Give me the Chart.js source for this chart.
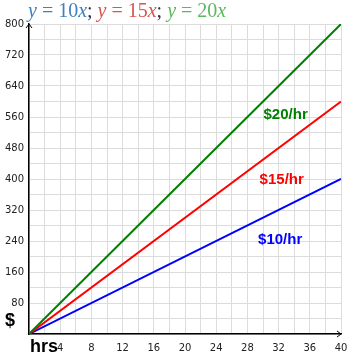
<!DOCTYPE html>
<html>
<head>
<meta charset="utf-8">
<script src="https://cdn.jsdelivr.net/npm/chart.js@4/dist/chart.umd.min.js"></script>
<style>
  html, body { margin: 0; padding: 0; background: #fff; }
  #wrap { width: 357px; height: 354px; }
</style>
</head>
<body>
<div id="wrap"><canvas id="chart" width="357" height="354"></canvas></div>
<script>
// hours worked and total pay for each rate
var hours = [0, 40];
var pay10 = [0, 400];
var pay15 = [0, 600];
var pay20 = [0, 800];
var rateLabels = ['$10/hr', '$15/hr', '$20/hr'];

function pts(ys) {
  return hours.map(function (h, i) { return { x: h, y: ys[i] }; });
}

// where the rate labels sit, in chart units
var labelSpots = [
  { text: rateLabels[0], x: 32.2, y: 243, color: '#0000ff' },
  { text: rateLabels[1], x: 32.4, y: 397, color: '#ff0000' },
  { text: rateLabels[2], x: 32.9, y: 565, color: '#008000' }
];

var extras = {
  id: 'extras',
  afterDraw: function (chart) {
    var ctx = chart.ctx;
    var xs = chart.scales.x, ys = chart.scales.y;
    var left = xs.left, bottom = ys.bottom, top = ys.top, right = xs.right;
    ctx.save();

    // axis arrows
    ctx.strokeStyle = '#000';
    ctx.lineWidth = 1;
    ctx.beginPath();
    ctx.moveTo(left - 3, top + 4); ctx.lineTo(left, top); ctx.lineTo(left + 3, top + 4);
    ctx.moveTo(right - 4, bottom - 3); ctx.lineTo(right, bottom); ctx.lineTo(right - 4, bottom + 3);
    ctx.stroke();

    // rate labels
    ctx.font = 'bold 15px "Liberation Sans", Arial, sans-serif';
    ctx.textAlign = 'center';
    ctx.textBaseline = 'middle';
    labelSpots.forEach(function (l) {
      ctx.fillStyle = l.color;
      ctx.fillText(l.text, xs.getPixelForValue(l.x), ys.getPixelForValue(l.y));
    });

    // axis names
    ctx.fillStyle = '#000';
    ctx.font = 'bold 18px "Liberation Sans", Arial, sans-serif';
    ctx.textAlign = 'left';
    ctx.textBaseline = 'alphabetic';
    ctx.fillText('$', 5, 326);
    ctx.fillText('hrs', 30, 352);

    // title: y = 10x; y = 15x; y = 20x
    var parts = [
      ['y', true, '#3f7fbf'], [' = 10', false, '#3f7fbf'], ['x', true, '#3f7fbf'], ['; ', false, '#334'],
      ['y', true, '#d9534f'], [' = 15', false, '#d9534f'], ['x', true, '#d9534f'], ['; ', false, '#334'],
      ['y', true, '#5cb85c'], [' = 20', false, '#5cb85c'], ['x', true, '#5cb85c']
    ];
    var cx = 28;
    parts.forEach(function (p) {
      ctx.font = (p[1] ? 'italic ' : '') + '20px "Liberation Serif", "Times New Roman", serif';
      ctx.fillStyle = p[2];
      ctx.fillText(p[0], cx, 17);
      cx += ctx.measureText(p[0]).width;
    });
    ctx.restore();
  }
};

new Chart(document.getElementById('chart'), {
  type: 'line',
  data: {
    datasets: [
      { data: pts(pay20), borderColor: '#008000', borderWidth: 2 },
      { data: pts(pay15), borderColor: '#ff0000', borderWidth: 2 },
      { data: pts(pay10), borderColor: '#0000ff', borderWidth: 2 }
    ]
  },
  options: {
    responsive: false,
    animation: false,
    events: [],
    layout: { padding: { left: 0, top: 24, right: 16, bottom: 0 } },
    elements: { point: { radius: 0 }, line: { tension: 0 } },
    plugins: { legend: { display: false }, tooltip: { enabled: false } },
    scales: {
      x: {
        type: 'linear', min: 0, max: 40,
        afterFit: function (s) { s.height = 20; },
        grid: { color: '#dcdcdc', drawTicks: false },
        border: { color: '#000', width: 1.5 },
        ticks: {
          stepSize: 2, padding: 8, autoSkip: false, maxRotation: 0,
          color: '#222', font: { family: '"DejaVu Sans", Verdana, sans-serif', size: 10 },
          callback: function (v) { return (v > 0 && v % 4 === 0) ? v : ''; }
        }
      },
      y: {
        type: 'linear', min: 0, max: 800,
        afterFit: function (s) { s.width = 29; },
        grid: { color: '#dcdcdc', drawTicks: false },
        border: { color: '#000', width: 1.5 },
        ticks: {
          stepSize: 40, padding: 5, autoSkip: false,
          color: '#222', font: { family: '"DejaVu Sans", Verdana, sans-serif', size: 10 },
          callback: function (v) { return (v > 0 && v % 80 === 0) ? v : ''; }
        }
      }
    }
  },
  plugins: [extras]
});
</script>
</body>
</html>
